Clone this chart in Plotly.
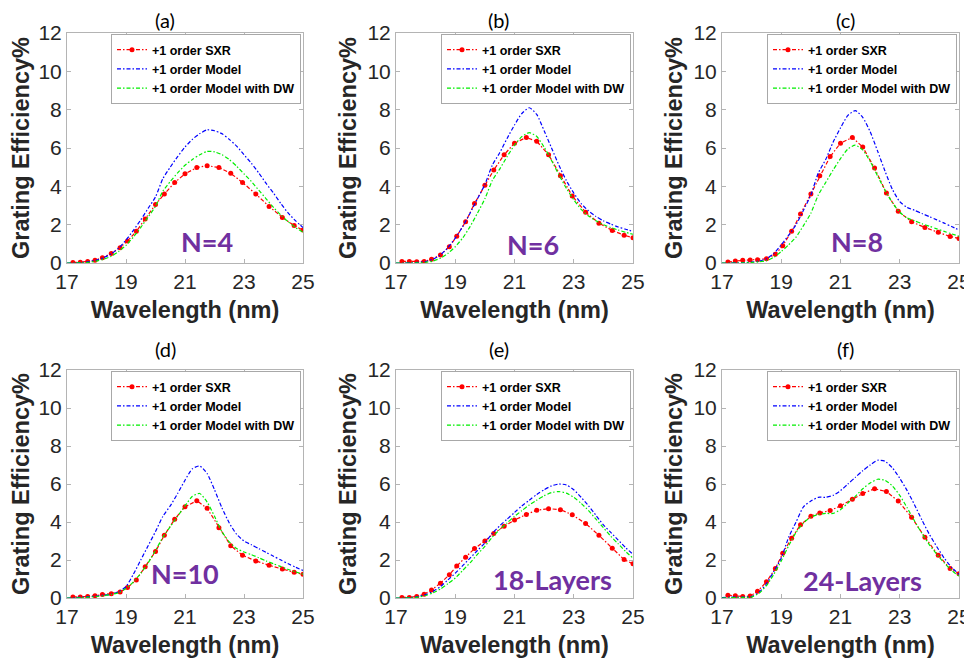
import plotly.graph_objects as go

# ---------------- data ----------------
panel_tags = ["(a)", "(b)", "(c)", "(d)", "(e)", "(f)"]
panel_labels = ["N=4", "N=6", "N=8", "N=10", "18-Layers", "24-Layers"]
label_x = [21.73, 21.64, 21.56, 21.0, 22.28, 21.73]
label_y = [1.13, 0.95, 1.1, 1.3, 0.97, 0.9]

series_names = ["+1 order SXR", "+1 order Model", "+1 order Model with DW"]

x_ticks = [17, 19, 21, 23, 25]
y_ticks = [0, 2, 4, 6, 8, 10, 12]

# model wavelength grid (nm)
wl_model = [17.0, 17.25, 17.5, 17.75, 18.0, 18.25, 18.5, 18.75, 19.0, 19.25, 19.5,
            19.75, 20.0, 20.25, 20.5, 20.75, 21.0, 21.25, 21.5, 21.75, 22.0, 22.25,
            22.5, 22.75, 23.0, 23.25, 23.5, 23.75, 24.0, 24.25, 24.5, 24.75, 25.0]
# measured (SXR) wavelength grid (nm)
wl_sxr = [17.2, 17.45, 17.7, 17.95, 18.2, 18.5, 18.8, 19.05, 19.35, 19.65, 20.0,
          20.3, 20.65, 21.0, 21.4, 21.75, 22.15, 22.55, 22.95, 23.4, 23.85, 24.3,
          24.7, 25.0]

# (a) N=4
sxr_a = [0.02, 0.04, 0.08, 0.14, 0.28, 0.5, 0.8, 1.15, 1.65, 2.3, 3.05, 3.6, 4.2,
         4.65, 4.98, 5.08, 4.98, 4.68, 4.2, 3.6, 2.95, 2.38, 1.95, 1.72]
model_a = [0.0, 0.01, 0.03, 0.07, 0.15, 0.28, 0.48, 0.78, 1.2, 1.7, 2.25, 2.85, 3.45,
           4.4, 5.0, 5.55, 6.05, 6.45, 6.75, 6.95, 6.9, 6.75, 6.45, 6.1, 5.65, 5.2,
           4.7, 4.15, 3.65, 3.1, 2.6, 2.2, 1.85]
dw_a = [0.0, 0.0, 0.01, 0.04, 0.1, 0.2, 0.35, 0.6, 0.92, 1.35, 1.85, 2.4, 2.95, 3.75,
        4.25, 4.7, 5.1, 5.4, 5.65, 5.82, 5.8, 5.65, 5.4, 5.05, 4.65, 4.25, 3.8, 3.35,
        2.9, 2.5, 2.15, 1.85, 1.6]

# (b) N=6
sxr_b = [0.08, 0.08, 0.06, 0.08, 0.2, 0.42, 0.85, 1.4, 2.15, 3.1, 4.05, 4.85, 5.65,
         6.25, 6.55, 6.35, 5.65, 4.55, 3.5, 2.65, 2.08, 1.7, 1.45, 1.32]
model_b = [0.0, 0.0, 0.01, 0.03, 0.08, 0.2, 0.42, 0.8, 1.3, 1.9, 2.6, 3.35, 4.1, 5.1,
           5.75, 6.5, 7.2, 7.8, 8.1, 7.75, 6.9, 6.0, 5.1, 4.3, 3.65, 3.1, 2.72, 2.43,
           2.2, 2.03, 1.88, 1.76, 1.65]
dw_b = [0.0, 0.0, 0.0, 0.01, 0.04, 0.1, 0.25, 0.5, 0.85, 1.3, 1.9, 2.6, 3.35, 4.3,
        4.9, 5.55, 6.15, 6.6, 6.8, 6.6, 6.05, 5.35, 4.6, 3.9, 3.3, 2.8, 2.45, 2.2,
        2.0, 1.85, 1.72, 1.6, 1.5]

# (c) N=8
sxr_c = [0.05, 0.1, 0.14, 0.16, 0.17, 0.22, 0.45, 0.9, 1.65, 2.55, 3.6, 4.55, 5.55,
         6.25, 6.55, 6.05, 4.95, 3.65, 2.7, 2.15, 1.85, 1.6, 1.38, 1.28]
model_c = [0.0, 0.0, 0.01, 0.02, 0.05, 0.1, 0.22, 0.5, 0.95, 1.45, 2.0, 2.75, 3.55,
           4.7, 5.4, 6.3, 7.05, 7.7, 7.95, 7.6, 6.85, 5.85, 4.8, 3.85, 3.2, 2.9, 2.75,
           2.58, 2.42, 2.25, 2.08, 1.9, 1.72]
dw_c = [0.0, 0.0, 0.0, 0.01, 0.03, 0.06, 0.12, 0.3, 0.6, 0.95, 1.35, 1.95, 2.6, 3.55,
        4.2, 4.85, 5.45, 5.95, 6.15, 5.9, 5.3, 4.55, 3.8, 3.15, 2.65, 2.35, 2.2, 2.05,
        1.92, 1.78, 1.65, 1.52, 1.4]

# (d) N=10
sxr_d = [0.05, 0.05, 0.08, 0.12, 0.18, 0.22, 0.32, 0.55, 0.95, 1.65, 2.45, 3.3, 4.15,
         4.8, 5.12, 4.72, 3.7, 2.75, 2.25, 1.95, 1.72, 1.52, 1.35, 1.25]
model_d = [0.0, 0.02, 0.04, 0.07, 0.1, 0.15, 0.2, 0.32, 0.6, 1.25, 2.0, 2.75, 3.5, 4.3,
           4.85, 5.5, 6.2, 6.8, 6.95, 6.55, 5.7, 4.75, 3.95, 3.35, 3.0, 2.8, 2.6, 2.4,
           2.2, 2.0, 1.8, 1.62, 1.45]
dw_d = [0.0, 0.0, 0.02, 0.05, 0.08, 0.12, 0.18, 0.28, 0.5, 0.85, 1.3, 1.85, 2.5, 3.2,
        3.75, 4.3, 4.85, 5.35, 5.5, 5.05, 4.3, 3.5, 2.95, 2.6, 2.42, 2.28, 2.12, 1.95,
        1.8, 1.65, 1.5, 1.37, 1.25]

# (e) 18-Layers
sxr_e = [0.03, 0.03, 0.08, 0.2, 0.42, 0.78, 1.22, 1.68, 2.15, 2.6, 3.0, 3.4, 3.78,
         4.1, 4.4, 4.62, 4.7, 4.65, 4.38, 3.92, 3.3, 2.62, 2.02, 1.8]
model_e = [0.0, 0.0, 0.02, 0.08, 0.18, 0.35, 0.6, 0.95, 1.3, 1.7, 2.1, 2.5, 2.9, 3.4,
           3.8, 4.15, 4.5, 4.85, 5.15, 5.45, 5.7, 5.9, 6.0, 5.95, 5.7, 5.3, 4.85, 4.35,
           3.85, 3.45, 3.05, 2.65, 2.3]
dw_e = [0.0, 0.0, 0.01, 0.05, 0.13, 0.27, 0.47, 0.75, 1.05, 1.45, 1.85, 2.3, 2.72,
        3.2, 3.6, 3.95, 4.3, 4.6, 4.9, 5.15, 5.38, 5.55, 5.6, 5.52, 5.3, 4.98, 4.6,
        4.15, 3.7, 3.25, 2.85, 2.45, 2.1]

# (f) 24-Layers
sxr_f = [0.15, 0.12, 0.08, 0.1, 0.35, 0.85, 1.55, 2.35, 3.15, 3.85, 4.3, 4.48, 4.6,
         4.85, 5.2, 5.5, 5.75, 5.6, 5.1, 4.25, 3.2, 2.25, 1.55, 1.28]
model_f = [0.02, 0.05, 0.05, 0.05, 0.08, 0.3, 0.75, 1.4, 2.1, 3.2, 4.0, 4.8, 5.1, 5.3,
           5.3, 5.4, 5.65, 6.0, 6.35, 6.7, 7.0, 7.25, 7.2, 6.85, 6.3, 5.65, 4.9, 4.1,
           3.35, 2.7, 2.1, 1.62, 1.25]
dw_f = [0.0, 0.02, 0.03, 0.03, 0.05, 0.25, 0.65, 1.25, 1.95, 2.75, 3.45, 3.95, 4.25,
        4.4, 4.45, 4.45, 4.65, 5.0, 5.35, 5.75, 6.05, 6.25, 6.2, 5.9, 5.4, 4.75, 4.05,
        3.4, 2.8, 2.3, 1.85, 1.45, 1.15]

sxr_all = [sxr_a, sxr_b, sxr_c, sxr_d, sxr_e, sxr_f]
model_all = [model_a, model_b, model_c, model_d, model_e, model_f]
dw_all = [dw_a, dw_b, dw_c, dw_d, dw_e, dw_f]

# ---------------- layout geometry (page pixels) ----------------
OFF = 8                      # default page body margin
W, H = 972 - OFF, 665 - OFF  # figure size so it fits the window
col_left = [67, 396, 722]
col_right = [303, 633, 959]
row_top = [33, 370]
row_bottom = [263, 598]
tag_x_px = [165, 499, 845]
tag_y_px = [20, 349]


def px_x(p):
    return (p - OFF) / W


def px_y(p):
    return 1 - (p - OFF) / H


TXT = "#262626"
AX = "#b4b4b4"
RED, BLUE, GREEN = "#ff0000", "#0000ff", "#00ee00"
PURPLE = "#7030a0"
DASH = "4px,2px,1.5px,2px"
FONT = "Liberation Sans, Arial, sans-serif"

fig = go.Figure()
layout = dict(
    width=W, height=H,
    margin=dict(l=0, r=0, t=0, b=0, autoexpand=False),
    paper_bgcolor="white", plot_bgcolor="white",
    showlegend=True,
    annotations=[],
)

for i in range(6):
    r, c = divmod(i, 3)
    k = "" if i == 0 else str(i + 1)
    xd = [px_x(col_left[c]), px_x(col_right[c])]
    yd = [px_y(row_bottom[r]), px_y(row_top[r])]
    leg = "legend" if i == 0 else f"legend{i + 1}"

    fig.add_trace(go.Scatter(
        x=wl_sxr, y=sxr_all[i], name=series_names[0], mode="lines+markers",
        line=dict(color=RED, width=1.2, dash=DASH),
        marker=dict(color=RED, size=5, symbol="circle"),
        xaxis="x" + k, yaxis="y" + k, legend=leg))
    fig.add_trace(go.Scatter(
        x=wl_model, y=model_all[i], name=series_names[1], mode="lines",
        line=dict(color=BLUE, width=1.2, dash=DASH, shape="spline", smoothing=0.6),
        xaxis="x" + k, yaxis="y" + k, legend=leg))
    fig.add_trace(go.Scatter(
        x=wl_model, y=dw_all[i], name=series_names[2], mode="lines",
        line=dict(color=GREEN, width=1.2, dash=DASH, shape="spline", smoothing=0.6),
        xaxis="x" + k, yaxis="y" + k, legend=leg))

    common = dict(showline=True, linecolor=AX, linewidth=1, mirror="allticks",
                  ticks="inside", ticklen=4, tickcolor=AX, showgrid=False,
                  zeroline=False, automargin=False,
                  tickfont=dict(family=FONT, size=21, color=TXT))
    layout["xaxis" + k] = dict(
        domain=xd, anchor="y" + k, range=[17, 25], tickvals=x_ticks,
        title=dict(text="Wavelength (nm)", standoff=9,
                   font=dict(family=FONT, size=23.5, color=TXT, weight="bold")),
        **common)
    layout["yaxis" + k] = dict(
        domain=yd, anchor="x" + k, range=[0, 12], tickvals=y_ticks,
        title=dict(text="Grating Efficiency%", standoff=4,
                   font=dict(family=FONT, size=23.5, color=TXT, weight="bold")),
        **common)
    layout[leg] = dict(
        x=xd[1] - 2 / W, y=yd[1] - 1 / H, xanchor="right", yanchor="top",
        bgcolor="white", bordercolor="#a8a8a8", borderwidth=1,
        font=dict(family=FONT, size=12.5, color="black", weight="bold"),
        itemwidth=30, tracegroupgap=0, traceorder="normal",
    )
    layout["annotations"].append(dict(
        x=label_x[i], y=label_y[i], xref="x" + k, yref="y" + k,
        text=f"<b>{panel_labels[i]}</b>", showarrow=False,
        font=dict(family="Lato, Open Sans", size=27, color=PURPLE)))
    layout["annotations"].append(dict(
        x=px_x(tag_x_px[c]), y=px_y(tag_y_px[r]), xref="paper", yref="paper",
        text=panel_tags[i], showarrow=False, xanchor="center", yanchor="middle",
        font=dict(family="Lato, Open Sans", size=20, color="black")))

fig.update_layout(**layout)
fig.write_html("out.html")
